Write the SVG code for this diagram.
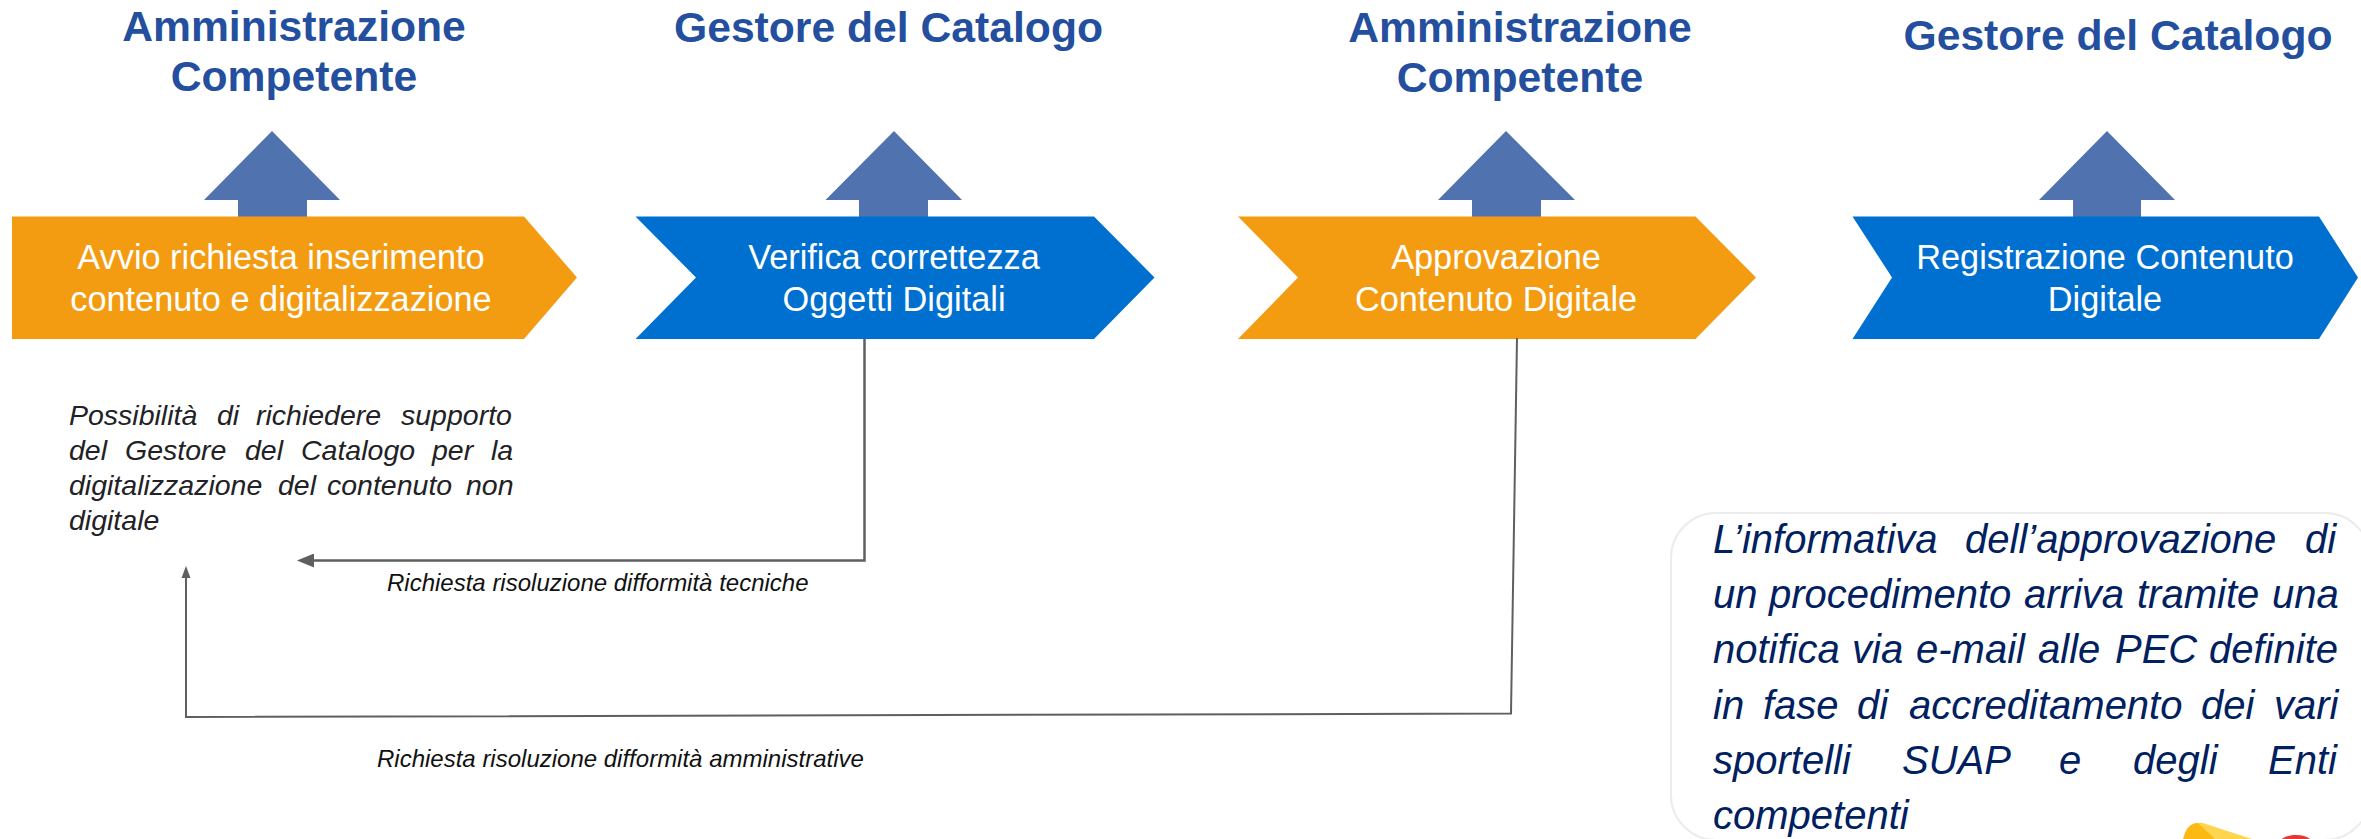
<svg xmlns="http://www.w3.org/2000/svg" width="2361" height="839" viewBox="0 0 2361 839">
<style>
text{font-family:"Liberation Sans",Arial,sans-serif}
.h{font-size:42.67px;font-weight:700;fill:#234f9e;text-anchor:middle}
.s{font-size:34.3px;fill:#fff;text-anchor:middle}
.up{fill:#5072ae}
.o{fill:#f39c12}
.b{fill:#0070d0}
.n{font-size:28.5px;font-style:italic;fill:#222226}
.l{font-size:24px;font-style:italic;fill:#111}
.p{font-size:40px;font-style:italic;fill:#002060}
.c{fill:none;stroke:#5f5f5f;stroke-linejoin:miter}
</style>
<defs>
<marker id="a1" markerUnits="userSpaceOnUse" markerWidth="18" markerHeight="14" refX="0" refY="7" orient="auto"><path d="M0 0L17 7L0 14Z" fill="#5f5f5f"/></marker>
<marker id="a2" markerUnits="userSpaceOnUse" markerWidth="13" markerHeight="10" refX="0" refY="5" orient="auto"><path d="M0 0.5L12 5L0 9.5Z" fill="#5f5f5f"/></marker>
</defs>
<rect width="2361" height="839" fill="#fff"/>
<g id="step1">
<path class="up" d="M272 131L340 200H307V217H238V200H204Z"/>
<path class="o" d="M12 216.500H524L577 277.500L524 339H12Z"/>
<text class="s" x="281" y="269">Avvio richiesta inserimento</text>
<text class="s" x="281" y="311">contenuto e digitalizzazione</text>
<text class="h" x="294" y="41">Amministrazione</text>
<text class="h" x="294" y="91">Competente</text>
</g>
<g id="step2">
<path class="up" d="M894 131L962 200H928V217H859V200H825.500Z"/>
<path class="b" d="M635.500 216.500H1094L1154.500 277.500L1094 339H635.500L696 277.500Z"/>
<text class="s" x="894" y="269">Verifica correttezza</text>
<text class="s" x="894" y="311">Oggetti Digitali</text>
<text class="h" x="888.500" y="42">Gestore del Catalogo</text>
</g>
<g id="step3">
<path class="up" d="M1506 131L1575 200H1541V217H1472V200H1438Z"/>
<path class="o" d="M1238 216.500H1695.500L1756 277.500L1695.500 339H1238L1298 277.500Z"/>
<text class="s" x="1496" y="269">Approvazione</text>
<text class="s" x="1496" y="311">Contenuto Digitale</text>
<text class="h" x="1520" y="41.500">Amministrazione</text>
<text class="h" x="1520" y="92">Competente</text>
</g>
<g id="step4">
<path class="up" d="M2107 131L2175 200H2141V217H2073V200H2039Z"/>
<path class="b" d="M1852.500 216.500H2319L2358 277.500L2319 339H1852.500L1892 277.500Z"/>
<text class="s" x="2105" y="269">Registrazione Contenuto</text>
<text class="s" x="2105" y="311">Digitale</text>
<text class="h" x="2118" y="50">Gestore del Catalogo</text>
</g>
<g id="connectors">
<path class="c" stroke-width="2.500" d="M864.500 339V560.500H314" marker-end="url(#a1)"/>
<path class="c" stroke-width="2" d="M1517 338L1511 713.500L186 717V578" marker-end="url(#a2)"/>
</g>
<g id="note-support">
<text class="n" y="425"><tspan x="69">Possibilità</tspan> <tspan x="217">di</tspan> <tspan x="256">richiedere</tspan> <tspan x="401">supporto</tspan></text>
<text class="n" y="460"><tspan x="69">del</tspan> <tspan x="125">Gestore</tspan> <tspan x="245">del</tspan> <tspan x="301">Catalogo</tspan> <tspan x="432">per</tspan> <tspan x="491">la</tspan></text>
<text class="n" y="495"><tspan x="69">digitalizzazione</tspan> <tspan x="278">del</tspan> <tspan x="327">contenuto</tspan> <tspan x="466">non</tspan></text>
<text class="n" x="69" y="530">digitale</text>
</g>
<g id="label-tech"><text class="l" x="387" y="591">Richiesta risoluzione difformità tecniche</text></g>
<g id="label-admin"><text class="l" x="377" y="767">Richiesta risoluzione difformità amministrative</text></g>
<g id="info-box">
<rect x="1671" y="513" width="699" height="327" rx="45" fill="#fff" stroke="#ececec" stroke-width="2"/>
<path d="M2183 839C2186 828 2190 823 2198 823C2200 823 2202 824 2204 825L2215 839Z" fill="#fdb913"/>
<path d="M2198 823C2200 822.500 2203 823 2206 824L2252 839H2215Z" fill="#ffd54f"/>
<path d="M2282 839C2285 836.500 2290 835 2296 835C2302 835 2307 836.500 2310 839Z" fill="#e53935"/>
<text class="p" y="553"><tspan x="1713">L’informativa</tspan> <tspan x="1965">dell’approvazione</tspan> <tspan x="2305">di</tspan></text>
<text class="p" y="608"><tspan x="1713">un</tspan> <tspan x="1769">procedimento</tspan> <tspan x="2024">arriva</tspan> <tspan x="2137">tramite</tspan> <tspan x="2272">una</tspan></text>
<text class="p" y="663"><tspan x="1713">notifica</tspan> <tspan x="1852">via</tspan> <tspan x="1916">e-mail</tspan> <tspan x="2038">alle</tspan> <tspan x="2115">PEC</tspan> <tspan x="2209">definite</tspan></text>
<text class="p" y="719"><tspan x="1713">in</tspan> <tspan x="1763">fase</tspan> <tspan x="1857">di</tspan> <tspan x="1909">accreditamento</tspan> <tspan x="2201">dei</tspan> <tspan x="2274">vari</tspan></text>
<text class="p" y="774"><tspan x="1713">sportelli</tspan> <tspan x="1902">SUAP</tspan> <tspan x="2059">e</tspan> <tspan x="2133">degli</tspan> <tspan x="2268">Enti</tspan></text>
<text class="p" x="1713" y="829">competenti</text>
</g>
</svg>
